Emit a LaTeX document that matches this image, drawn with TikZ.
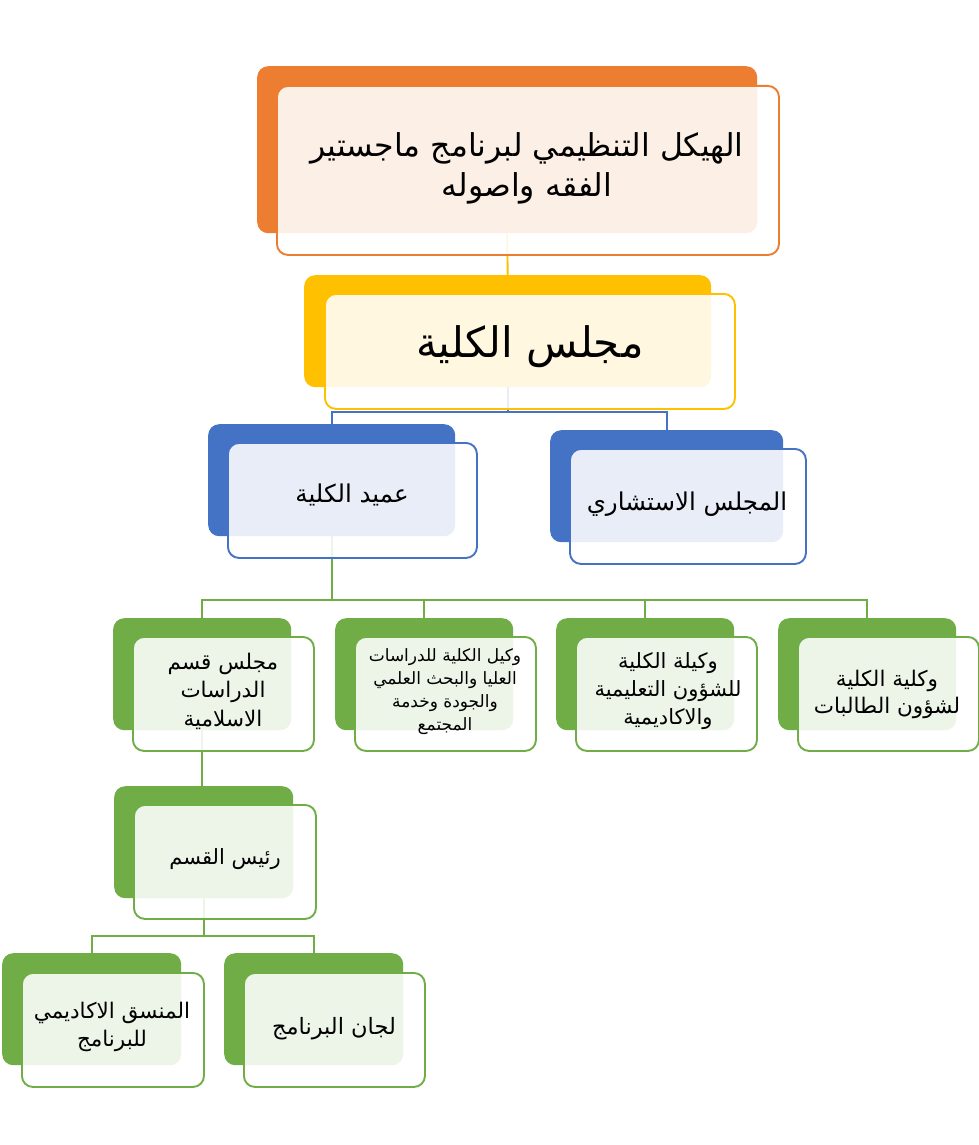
\documentclass[tikz,border=0pt]{standalone}
\usepackage{fontspec}
\newfontfamily\ar[Script=Arabic]{DejaVu Sans}
\TeXXeTstate=1
\usetikzlibrary{calc}
\definecolor{corange}{HTML}{ED7D31}
\definecolor{cgold}{HTML}{FFC000}
\definecolor{cblue}{HTML}{4472C4}
\definecolor{cgreen}{HTML}{70AD47}
\tikzset{
  backbox/.style={rounded corners=11pt, anchor=north west, inner sep=0pt, draw=none},
  frontbox/.style={rounded corners=11pt, anchor=north west, fill=white, fill opacity=0.88, text opacity=1, line width=1.9pt, align=center, inner sep=0pt},
  link/.style={line width=1.9pt},
  fs/.style 2 args={font={\ar\fontsize{#1}{#2}\selectfont}},
}
\newcommand\RL[1]{\beginR #1\endR}
\begin{document}
\begin{tikzpicture}[x=1pt,y=-1pt]
\useasboundingbox (0,0) rectangle (979,1145);
% back boxes
\node[backbox, fill=corange, minimum width=500pt, minimum height=167pt] (top) at (257,66) {};
\node[backbox, fill=cgold, minimum width=407pt, minimum height=112pt] (council) at (304,275) {};
\node[backbox, fill=cblue, minimum width=247pt, minimum height=112pt] (dean) at (208,424) {};
\node[backbox, fill=cblue, minimum width=233pt, minimum height=112pt] (adv) at (550,430) {};
\node[backbox, fill=cgreen, minimum width=178pt, minimum height=112pt] (r1) at (113,618) {};
\node[backbox, fill=cgreen, minimum width=178pt, minimum height=112pt] (r2) at (335,618) {};
\node[backbox, fill=cgreen, minimum width=178pt, minimum height=112pt] (r3) at (556,618) {};
\node[backbox, fill=cgreen, minimum width=178pt, minimum height=112pt] (r4) at (778,618) {};
\node[backbox, fill=cgreen, minimum width=179pt, minimum height=112pt] (head) at (114,786) {};
\node[backbox, fill=cgreen, minimum width=179pt, minimum height=112pt] (c1) at (2,953) {};
\node[backbox, fill=cgreen, minimum width=179pt, minimum height=112pt] (c2) at (224,953) {};
% connectors
\draw[link, cgold] (top.south) -- (council.north);
\draw[link, cblue] (council.south) -- ++(0,25) -| (dean.north);
\draw[link, cblue] (council.south) -- ++(0,25) -| (adv.north);
\draw[link, cgreen] (dean.south) -- ++(0,64) -| (r1.north);
\draw[link, cgreen] (dean.south) -- ++(0,64) -| (r2.north);
\draw[link, cgreen] (dean.south) -- ++(0,64) -| (r3.north);
\draw[link, cgreen] (dean.south) -- ++(0,64) -| (r4.north);
\draw[link, cgreen] (r1.south) -- (r1.south |- head.north);
\draw[link, cgreen] (head.south) -- ++(0,38) -| (c1.north);
\draw[link, cgreen] (head.south) -- ++(0,38) -| (c2.north);
% front boxes
\node[frontbox, draw=corange, minimum width=502pt, minimum height=169pt] (topf) at (276,85) {};
\node[frontbox, draw=cgold, minimum width=410pt, minimum height=115pt] (councilf) at (324,293) {};
\node[frontbox, draw=cblue, minimum width=249pt, minimum height=115pt] (deanf) at (227,442) {};
\node[frontbox, draw=cblue, minimum width=236pt, minimum height=115pt] (advf) at (569,448) {};
\node[frontbox, draw=cgreen, minimum width=181pt, minimum height=114pt] (r1f) at (132,636) {};
\node[frontbox, draw=cgreen, minimum width=181pt, minimum height=114pt] (r2f) at (354,636) {};
\node[frontbox, draw=cgreen, minimum width=181pt, minimum height=114pt] (r3f) at (575,636) {};
\node[frontbox, draw=cgreen, minimum width=181pt, minimum height=114pt] (r4f) at (797,636) {};
\node[frontbox, draw=cgreen, minimum width=182pt, minimum height=114pt] (headf) at (133,804) {};
\node[frontbox, draw=cgreen, minimum width=182pt, minimum height=114pt] (c1f) at (21,972) {};
\node[frontbox, draw=cgreen, minimum width=181pt, minimum height=114pt] (c2f) at (243,972) {};
% texts
\node[align=center, fs={31.5}{40}] (t-top) at (527,168) {\RL{الهيكل التنظيمي لبرنامج ماجستير}\\\RL{الفقه واصوله}};
\node[align=center, fs={42}{50}] (t-council) at (530,347) {\RL{مجلس الكلية}};
\node[align=center, fs={24.5}{30}] (t-dean) at (352,495) {\RL{عميد الكلية}};
\node[align=center, fs={24.5}{30}] (t-adv) at (687,504) {\RL{المجلس الاستشاري}};
\node[align=center, fs={21.5}{28.5}] (t-r1) at (223,691) {\RL{مجلس قسم}\\\RL{الدراسات}\\\RL{الاسلامية}};
\node[align=center, fs={17}{23}] (t-r2) at (445,692) {\RL{وكيل الكلية للدراسات}\\\RL{العليا والبحث العلمي}\\\RL{والجودة وخدمة}\\\RL{المجتمع}};
\node[align=center, fs={21}{28}] (t-r3) at (668,691) {\RL{وكيلة الكلية}\\\RL{للشؤون التعليمية}\\\RL{والاكاديمية}};
\node[align=center, fs={21.5}{27}] (t-r4) at (887,694) {\RL{وكلية الكلية}\\\RL{لشؤون الطالبات}};
\node[align=center, fs={21}{27}] (t-head) at (225,859) {\RL{رئيس القسم}};
\node[align=center, fs={21.5}{28}] (t-c1) at (112,1027) {\RL{المنسق الاكاديمي}\\\RL{للبرنامج}};
\node[align=center, fs={22.5}{28}] (t-c2) at (334,1029) {\RL{لجان البرنامج}};
\end{tikzpicture}
\end{document}
